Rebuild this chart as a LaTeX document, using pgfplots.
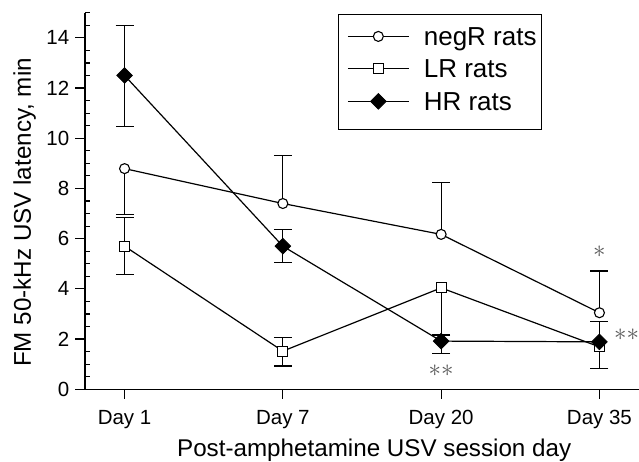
\documentclass[border=0pt]{standalone}
\usepackage{fontspec}
\setmainfont{Liberation Sans}
\usepackage{pgfplots}
\pgfplotsset{compat=1.18}
\newcommand{\tfont}{\fontsize{20.5}{24}\selectfont}
\newcommand{\lfont}{\fontsize{24.2}{28}\selectfont}
\newcommand{\gfont}{\fontsize{26}{30}\selectfont}
\newcommand{\lstrut}{\rule[-5.5pt]{0pt}{24.5pt}}
\begin{document}
\begin{tikzpicture}
\begin{axis}[
  scale only axis, width=554pt, height=376.6pt,
  xmin=-0.25, xmax=3.25, ymin=0, ymax=15,
  axis x line*=bottom, axis y line*=left,
  axis line style={line width=1.3pt,-},
  xtick={0,1,2,3}, xticklabels={Day 1,Day 7,Day 20,Day 35},
  ytick={0,2,...,16}, minor y tick num=3,
  tick align=outside,
  major tick length=9.5pt, minor tick length=5pt,
  minor y tick style={xshift=5pt},
  tick style={line width=1.2pt, black},
  /pgf/number format/assume math mode=true,
  xticklabel style={font=\tfont, inner sep=0pt, yshift=-11pt},
  yticklabel style={font=\tfont, inner sep=0pt, xshift=-6pt},
  label style={font=\lfont},
  xlabel={Post-amphetamine USV session day},
  ylabel={FM 50-kHz USV latency, min},
  xlabel style={at={(axis description cs:0.522,-0.179)}, anchor=base},
  ylabel style={at={(axis description cs:-0.0975,0.4695)}, anchor=base},
  clip=false,
  legend style={at={(axis description cs:0.4572,0.9965)}, anchor=north west,
    draw=black, line width=1.1pt, font=\gfont,
    inner xsep=3pt, inner ysep=9.6pt, row sep=1.2pt, column sep=12.4pt,
    nodes={inner xsep=2pt, inner ysep=2pt}},
  legend cell align=left,
  legend image code/.code={%
    \path[draw=none, fill=none] (-6pt,-19pt) rectangle (61pt,7.9pt);
    \draw[mark repeat=2,mark phase=2] plot coordinates {(0pt,0pt) (30.5pt,0pt) (61pt,0pt)};},
]
% upper error bars
\addplot[forget plot, draw=none, mark=none,
  error bars/.cd, y dir=plus, y explicit,
  error bar style={draw=black, line width=1.2pt},
  error mark options={draw=black, rotate=90, mark size=9pt, line width=1.2pt}]
coordinates {
  (1,7.40) += (0,1.92)
  (2,6.17) += (0,2.08)
  (3,3.05) += (0,1.66)
  (0,5.70) += (0,1.13)
  (1,1.52) += (0,0.55)
  (0,12.5) += (0,2.0)
  (1,5.70) += (0,0.66)
  (3,1.89) += (0,0.80)
};
% lower error bars
\addplot[forget plot, draw=none, mark=none,
  error bars/.cd, y dir=minus, y explicit,
  error bar style={draw=black, line width=1.2pt},
  error mark options={draw=black, rotate=90, mark size=9pt, line width=1.2pt}]
coordinates {
  (0,8.79) -= (0,1.82)
  (0,5.70) -= (0,1.13)
  (1,1.52) -= (0,0.59)
  (2,4.04) -= (0,1.88)
  (3,1.69) -= (0,0.85)
  (0,12.5) -= (0,2.04)
  (1,5.70) -= (0,0.65)
  (2,1.92) -= (0,0.49)
};
\addplot[black, line width=1.2pt, mark=*, mark size=5pt, mark options={fill=white, line width=1.1pt}]
coordinates {(0,8.79) (1,7.40) (2,6.17) (3,3.05)};
\addlegendentry{\lstrut negR rats}
\addplot[black, line width=1.2pt, mark=square*, mark size=5pt, mark options={fill=white, line width=1.1pt}]
coordinates {(0,5.70) (1,1.52) (2,4.04) (3,1.69)};
\addlegendentry{\lstrut LR rats}
\addplot[black, line width=1.2pt, mark=square*, mark size=5.5pt, mark options={fill=black, rotate=45, line width=0.8pt}]
coordinates {(0,12.5) (1,5.70) (2,1.92) (3,1.89)};
\addlegendentry{\lstrut HR rats}
\node[text=black!65, font=\fontsize{34}{34}\selectfont] at (axis cs:3,5.47) {$\ast$};
\node[text=black!65, font=\fontsize{34}{34}\selectfont] at (axis cs:2,0.73) {$\mathord{\ast}\mathord{\ast}$};
\node[text=black!65, font=\fontsize{34}{34}\selectfont] at (axis cs:3.172,2.16) {$\mathord{\ast}\mathord{\ast}$};
\coordinate (bl) at (rel axis cs:0,0);
\coordinate (tr) at (rel axis cs:1,1);
\end{axis}
\pgfresetboundingbox
\path ([xshift=-85pt,yshift=-71.7pt]bl) rectangle ([yshift=12.7pt]tr);
\end{tikzpicture}
\end{document}
